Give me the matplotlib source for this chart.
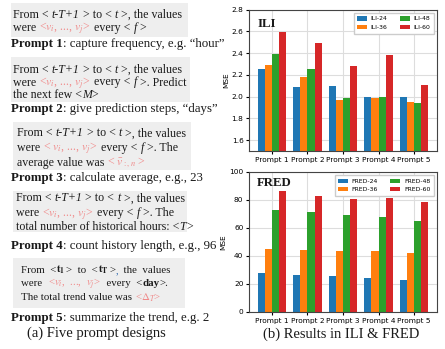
import numpy as np
import matplotlib
matplotlib.use('Agg')
import matplotlib.pyplot as plt
from matplotlib.patches import Rectangle

plt.rcParams['mathtext.fontset'] = 'stix'

# Data
prompts = ['Prompt 1', 'Prompt 2', 'Prompt 3', 'Prompt 4', 'Prompt 5']
ili_labels = ['ILI-24', 'ILI-36', 'ILI-48', 'ILI-60']
ili_24 = [2.25, 2.09, 2.10, 2.00, 2.00]
ili_36 = [2.29, 2.18, 1.97, 1.99, 1.95]
ili_48 = [2.39, 2.25, 1.99, 2.00, 1.94]
ili_60 = [2.59, 2.49, 2.28, 2.38, 2.11]
fred_labels = ['FRED-24', 'FRED-36', 'FRED-48', 'FRED-60']
fred_24 = [27.9, 26.4, 25.7, 24.3, 22.9]
fred_36 = [45.0, 44.3, 43.3, 43.3, 42.1]
fred_48 = [72.9, 71.4, 69.3, 67.9, 65.0]
fred_60 = [86.4, 83.1, 80.7, 81.4, 78.6]

colors = ['#1f77b4', '#ff7f0e', '#2ca02c', '#d62728']
pink = '#f08a8a'
ink = '#1a1a1a'
serif = 'Liberation Serif'

W, H = 445, 349
fig = plt.figure(figsize=(W / 100, H / 100), dpi=100)
renderer = fig.canvas.get_renderer()


def px(x, y):
    return x / W, 1 - y / H


def seg_width(s, size, kw):
    # measure with guard chars so leading/trailing spaces count
    a = fig.text(0, 0, 'x' + s + 'x', fontsize=size, family=serif, **kw)
    b = fig.text(0, 0, 'xx', fontsize=size, family=serif, **kw)
    w = a.get_window_extent(renderer).width - b.get_window_extent(renderer).width
    a.remove()
    b.remove()
    return w


def rich(x, y, parts, size=8.6):
    for s, kw in parts:
        kw = dict(kw)
        kw.setdefault('color', ink)
        fig.text(*px(x, y), s, fontsize=size, family=serif, va='baseline', **kw)
        x += seg_width(s, size, kw)


N = {}
I = {'style': 'italic'}
P = {'color': pink}
B = {'weight': 'bold'}

line_from = [('From < ', N), ('t-T+1', I), (' > to < ', N), ('t', I), (' >, the values', N)]
vals = ('<$v_i$, ..., $v_j$>', P)

# grey boxes
boxes = [(11, 3, 188, 37), (11, 57, 190, 102), (13, 122, 191, 170),
         (13, 191, 187, 232), (13, 258, 185, 308)]
for x0, y0, x1, y1 in boxes:
    fig.patches.append(Rectangle(px(x0, y1), (x1 - x0) / W, (y1 - y0) / H,
                                 transform=fig.transFigure, facecolor='#eeeeee',
                                 edgecolor='none', zorder=0))

# Prompt 1
rich(13, 17.5, line_from)
rich(13, 31, [('were ', N), vals, (' every < ', N), ('f', I), (' >', N)])
# Prompt 2
rich(13, 73, [*line_from])
rich(13, 85.5, [('were ', N), vals, (' every < ', N), ('f', I), (' >. Predict', N)])
rich(13, 98.5, [('the next few <', N), ('M', I), ('>', N)])
# Prompt 3
rich(17, 136.5, line_from)
rich(17, 151, [('were ', N), ('< $v_i$, ..., $v_j$>', P), (' every < ', N), ('f', I), (' >. The', N)])
rich(17, 165.5, [('average value was ', N), ('< $\\bar{v}_{:,n}$ >', P)])
# Prompt 4
rich(16, 201.5, line_from)
rich(16, 216, [('were ', N), ('<$v_i$, ..., $v_j$>', P), (' every < ', N), ('f', I), (' >. The', N)])
rich(16, 230.5, [('total number of historical hours: <', N), ('T', I), ('>', N)])
# Prompt 5
rich(21, 273, [('From  <', N), ('$\\mathbf{t_1}$', N), ('>  to  <', N), ('$\\mathbf{t_T}$', N),
               ('>', N), (',', {'color': '#3a6fb0'}), ('  the  values', N)], size=7.8)
rich(21, 286.5, [('were  ', N), ('<$v_i$,  ...,  $v_j$>', P), ('  every  <', N), ('day', B), ('>.', N)],
     size=7.8)
rich(21, 300, [('The total trend value was ', N), ('<$\\Delta_T$>', P)], size=7.8)

# prompt captions
labels = [(46.5, '1', ': capture frequency, e.g. \u201chour\u201d'),
          (112, '2', ': give prediction steps, \u201cdays\u201d'),
          (181.5, '3', ': calculate average, e.g., 23'),
          (248.5, '4', ': count history length, e.g., 96'),
          (320.5, '5', ': summarize the trend, e.g. 2')]
for y, k, rest in labels:
    rich(11, y, [('Prompt ' + k, B), (rest, N)], size=9.3)

fig.text(*px(96, 333), '(a) Five prompt designs', fontsize=10.5, family=serif,
         ha='center', va='center', color=ink)
fig.text(*px(341, 334), '(b) Results in ILI & FRED', fontsize=10.5, family=serif,
         ha='center', va='center', color=ink)

# bar charts
x = np.arange(len(prompts))
width = 0.2
offsets = [-0.3, -0.1, 0.1, 0.3]


def bar_panel(rect, series, labels, ylim, yticks, title, title_y):
    ax = fig.add_axes(rect)
    ax.set_axisbelow(True)
    ax.grid(True, color='#dddddd', linewidth=0.8)
    for s, lab, c, off in zip(series, labels, colors, offsets):
        ax.bar(x + off, s, width, label=lab, color=c)
    ax.set_xticks(x)
    ax.set_xticklabels(prompts)
    ax.set_ylim(*ylim)
    ax.set_yticks(yticks)
    ax.tick_params(labelsize=5.3, length=2.5, pad=1.5)
    ax.set_ylabel('MSE', fontsize=5.3, labelpad=2)
    for sp in ax.spines.values():
        sp.set_color('#444444')
        sp.set_linewidth(0.8)
    ax.text(0.043, title_y, title, transform=ax.transAxes, fontsize=9.3, family=serif,
            weight='bold', va='top', color=ink)
    ax.legend(ncol=2, fontsize=4.4, loc='upper right', handlelength=1.6, handleheight=0.7,
              handletextpad=0.6, columnspacing=2.0, borderpad=0.6, labelspacing=0.5,
              fancybox=False, framealpha=1, edgecolor='#cccccc')
    return ax


bar_panel([249 / W, 1 - 151 / H, 188 / W, 141.5 / H], [ili_24, ili_36, ili_48, ili_60],
          ili_labels, (1.5, 2.8), [1.6, 1.8, 2.0, 2.2, 2.4, 2.6, 2.8], 'ILI', 0.94)
bar_panel([249 / W, 1 - 312 / H, 188 / W, 140 / H], [fred_24, fred_36, fred_48, fred_60],
          fred_labels, (0, 100), [0, 20, 40, 60, 80, 100], 'FRED', 0.964)

fig.savefig('out.png', dpi=100)
